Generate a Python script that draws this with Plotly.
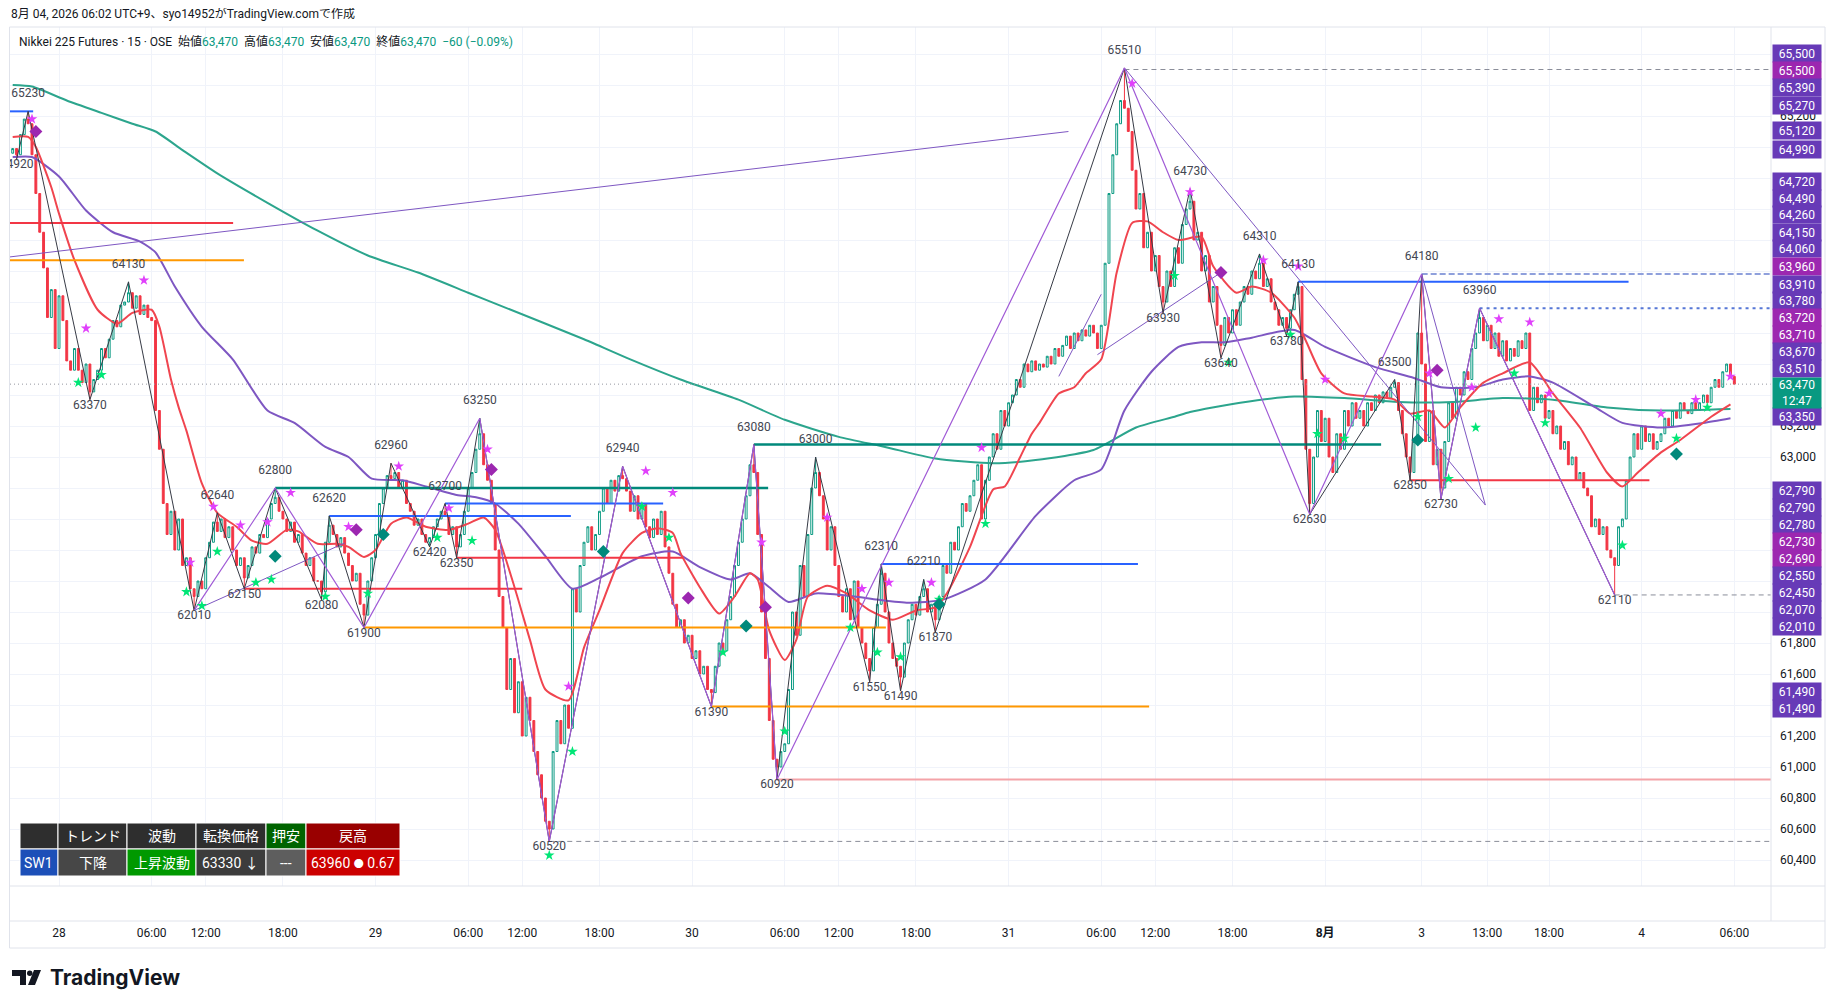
import plotly.graph_objects as go
import pandas as pd

# OSE Nikkei 225 futures, 15 minute bars (day 08:45-15:45, night 17:00-06:00)
sessions = [
    ("2026-07-27 21:00", "2026-07-28 06:00"),
    ("2026-07-28 08:45", "2026-07-28 15:45"),
    ("2026-07-28 17:00", "2026-07-29 06:00"),
    ("2026-07-29 08:45", "2026-07-29 15:45"),
    ("2026-07-29 17:00", "2026-07-30 06:00"),
    ("2026-07-30 08:45", "2026-07-30 15:45"),
    ("2026-07-30 17:00", "2026-07-31 06:00"),
    ("2026-07-31 08:45", "2026-07-31 15:45"),
    ("2026-07-31 17:00", "2026-08-01 06:00"),
    ("2026-08-03 08:45", "2026-08-03 15:45"),
    ("2026-08-03 17:00", "2026-08-04 06:00"),
]

first_open = 64960
closes = [
    # 27 night
    64990, 64950, 65080, 65180, 65150, 64950, 64700, 64450, 64220, 63900,
    64080, 63700, 64040, 63880, 63620, 63560, 63700, 63560, 63480, 63600,
    63420, 63500, 63560, 63700, 63640, 63760, 63880, 63840, 63980, 64000,
    64060, 63960, 64040, 63920, 63980, 63900, 63880,
    # 28 day
    63300, 63050, 62700, 62500, 62650, 62400, 62600, 62300, 62350, 62150,
    62100, 62200, 62150, 62350, 62450, 62580, 62520, 62600, 62480, 62550,
    62400, 62300, 62350, 62220, 62300, 62420, 62380, 62500, 62480,
    # 28 night
    62600, 62700, 62740, 62650, 62600, 62520, 62580, 62450, 62500, 62380,
    62300, 62350, 62200, 62200, 62130, 62450, 62560, 62500, 62420, 62480,
    62380, 62300, 62200, 62250, 62050, 61980, 62200, 62350, 62500, 62700,
    62800, 62880, 62860, 62900, 62800, 62850, 62700, 62650, 62560, 62600,
    62500, 62450, 62480, 62550, 62600, 62650, 62620, 62500, 62550, 62420,
    62500, 62650, 62800,
    # 29 day
    62900, 63050, 63150, 62950, 62850, 62700, 62400, 62100, 61900, 61500,
    61700, 61350, 61550, 61200, 61450, 61300, 61100, 60950, 60800, 60650,
    60600, 61100, 61300, 61150, 61400, 61250, 62150, 62000, 62300,
    # 29 night
    62450, 62550, 62400, 62500, 62650, 62800, 62700, 62850, 62780, 62880,
    62860, 62780, 62650, 62750, 62600, 62700, 62550, 62480, 62600, 62500,
    62650, 62420, 62250, 62050, 61900, 61950, 61800, 61850, 61700, 61750,
    61600, 61650, 61500, 61480, 61650, 61800, 61750, 61950, 62100, 62300,
    62450, 62600, 62750, 62950, 62900, 62500, 62000, 61700, 61300, 61050,
    61000, 61100, 61150,
    # 30 day
    61500, 62000, 61850, 62300, 62100, 62500, 62800, 62900, 62750, 62600,
    62400, 62550, 62300, 62100, 62000, 62150, 61950, 62200, 61900, 61800,
    61700, 61620, 61900, 62050, 62250, 62000, 61800, 61700, 61650,
    # 30 night
    61580, 61800, 61950, 62050, 61980, 62100, 62150, 62000, 62050, 61950,
    62100, 62300, 62250, 62450, 62400, 62550, 62700, 62650, 62750, 62850,
    62950, 62600, 62850, 63000, 63150, 63050, 63300, 63200, 63350, 63400,
    63500, 63450, 63600, 63550, 63620, 63560, 63600, 63580, 63650, 63600,
    63700, 63650, 63720, 63780, 63700, 63800, 63750, 63820, 63780, 63850,
    63800, 63700, 63850,
    # 31 day
    64250, 64700, 64950, 65150, 65300, 65250, 65100, 64850, 64600, 64700,
    64350, 64450, 64200, 64300, 64100, 64000, 64200, 64100, 64350, 64250,
    64500, 64600, 64650, 64400, 64450, 64200, 64300, 64000, 64100,
    # 31 night
    63850, 63720, 63900, 63800, 63950, 63850, 64000, 64100, 64050, 64200,
    64150, 64250, 64100, 64150, 64000, 63950, 63850, 63900, 63830, 63950,
    64050, 64100, 63500, 63050, 62700, 63000, 63300, 63100, 63250, 63000,
    62900, 63150, 63050, 63300, 63200, 63350, 63250, 63300, 63200, 63350,
    63300, 63400, 63350, 63420, 63380, 63450, 63480, 63300, 63150, 63000,
    62900, 63100, 63800,
    # 3 day
    63600, 63100, 63300, 62950, 63050, 62800, 63100, 63350, 63250, 63450,
    63400, 63550, 63500, 63700, 63800, 63900, 63750, 63850, 63700, 63800,
    63650, 63750, 63620, 63700, 63650, 63750, 63700, 63800, 63300,
    # 3 night
    63450, 63350, 63400, 63250, 63300, 63150, 63200, 63050, 63100, 62950,
    63000, 62850, 62900, 62800, 62750, 62550, 62600, 62500, 62550, 62400,
    62350, 62300, 62550, 62600, 62850, 63000, 63150, 63050, 63200, 63100,
    63150, 63050, 63100, 63150, 63250, 63200, 63300, 63250, 63350, 63300,
    63280, 63350, 63300, 63350, 63400, 63350, 63450, 63500, 63450, 63550,
    63600, 63520, 63470,
]

# swing points with their labels (bar, price, H/L)
piv_i = [1, 4, 20, 30, 47, 53, 60, 68, 80, 82, 91, 98, 108, 112, 115, 121, 139,
         158, 181, 192, 198, 208, 222, 225, 230, 236, 239, 288, 298, 305, 313,
         323, 330, 333, 336, 358, 362, 365, 370, 380, 415]
piv_p = [64920, 65230, 63370, 64130, 62010, 62640, 62150, 62800, 62080, 62620,
         61900, 62960, 62420, 62700, 62350, 63250, 60520, 62940, 61390, 63080,
         60920, 63000, 61550, 62310, 61490, 62210, 61870, 65510, 63930, 64730,
         63640, 64310, 63780, 64130, 62630, 63500, 62850, 64180, 62730, 63960,
         62110]
piv_k = ["L", "H", "L", "H", "L", "H", "L", "H", "L", "H", "L", "H", "L", "H",
         "L", "H", "L", "H", "L", "H", "L", "H", "L", "H", "L", "H", "L", "H",
         "L", "H", "L", "H", "L", "H", "L", "H", "L", "H", "L", "H", "L"]
major_i = [47, 68, 91, 121, 139, 158, 181, 192, 198, 288, 336, 365, 370, 380, 415]

# moving averages (bar, price)
ema_fast = [(0, 65065), (4, 65065), (6, 65000), (10, 64740), (12, 64570), (16, 64270),
            (22, 63950), (27, 63860), (31, 63930), (36, 63950), (38, 63840), (41, 63500),
            (43, 63320), (45, 63170), (49, 62830), (53, 62640), (58, 62550), (62, 62460),
            (66, 62440), (71, 62530), (74, 62520), (79, 62440), (84, 62440), (87, 62420),
            (91, 62355), (94, 62400), (98, 62570), (102, 62610), (107, 62550), (113, 62530),
            (118, 62570), (122, 62610), (125, 62530), (130, 62160), (134, 61820), (138, 61500),
            (144, 61430), (148, 61770), (152, 62010), (158, 62380), (163, 62510), (167, 62540),
            (171, 62510), (173, 62380), (178, 62160), (183, 61990), (187, 62100), (191, 62250),
            (193, 62210), (196, 61880), (200, 61690), (203, 61820), (206, 62100), (211, 62170),
            (216, 62120), (222, 62010), (228, 61950), (234, 62010), (239, 62030), (242, 62120),
            (248, 62420), (254, 62790), (257, 62810), (261, 63000), (264, 63150), (266, 63220),
            (271, 63410), (275, 63450), (278, 63540), (282, 63630), (286, 64190), (290, 64510),
            (294, 64520), (298, 64450), (302, 64400), (308, 64420), (311, 64230), (317, 64060),
            (321, 64100), (326, 64060), (332, 63900), (335, 63750), (339, 63540), (345, 63410),
            (352, 63390), (358, 63370), (362, 63280), (367, 63300), (371, 63190), (375, 63320),
            (381, 63480), (386, 63540), (393, 63610), (399, 63410), (406, 63190), (413, 62900),
            (417, 62810), (421, 62900), (427, 63030), (432, 63110), (440, 63260), (445, 63340)]
ema_mid = [(0, 64935), (5, 64935), (12, 64810), (19, 64590), (26, 64450), (33, 64390),
           (37, 64320), (42, 64100), (49, 63840), (57, 63630), (66, 63300), (73, 63220),
           (81, 63065), (87, 63000), (93, 62860), (101, 62850), (107, 62810), (115, 62755),
           (120, 62740), (125, 62700), (131, 62570), (138, 62360), (145, 62150), (152, 62220),
           (163, 62360), (171, 62390), (178, 62290), (186, 62210), (191, 62250), (196, 62160),
           (201, 62065), (208, 62120), (218, 62100), (224, 62080), (232, 62060), (241, 62080),
           (252, 62210), (265, 62620), (275, 62850), (282, 62920), (288, 63300), (295, 63550),
           (302, 63710), (308, 63740), (314, 63740), (321, 63770), (332, 63820), (340, 63710),
           (353, 63580), (363, 63510), (370, 63450), (379, 63450), (386, 63500), (393, 63520),
           (399, 63480), (410, 63320), (417, 63220), (427, 63190), (438, 63220), (445, 63250)]
ema_slow = [(0, 65400), (5, 65390), (14, 65300), (23, 65220), (31, 65150), (37, 65100),
            (44, 64980), (53, 64830), (66, 64640), (79, 64460), (92, 64300), (105, 64190),
            (118, 64060), (126, 63980), (148, 63760), (160, 63630), (173, 63500), (188, 63370),
            (200, 63240), (214, 63130), (226, 63065), (239, 62990), (254, 62960), (265, 62980),
            (280, 63045), (291, 63190), (301, 63260), (305, 63290), (318, 63350), (332, 63390),
            (345, 63380), (359, 63355), (373, 63355), (386, 63380), (399, 63370), (413, 63320),
            (427, 63300), (445, 63310)]

# horizontal levels (kind, price, from bar, to bar)
levels = [
    ("hi", 65230, -1, 5.3), ("lo", 64510, -1, 57.1), ("brk", 64270, -1, 59.9),
    ("key", 62800, 68, 195.7), ("hi", 62620, 82, 144.6), ("hi", 62700, 112, 168.5),
    ("lo", 62150, 60, 132), ("lo", 62350, 115, 173.6), ("brk", 61900, 91, 226.2),
    ("key", 63080, 192, 354.5), ("hi", 62310, 225, 291.5), ("brk", 61390, 181, 294.4),
    ("origin", 60920, 198, 460), ("hi", 64130, 333, 418.6), ("lo", 62850, 362, 424),
]
extreme_lines = [(60520, 139), (65500, 288), (62110, 415)]
target_dash = (64180, 365)
target_dot = (63960, 380)

# trend lines (bar0, price0, bar1, price1)
trend_lines = [(-1, 64290, 273.5, 65100), (47, 62010, 86, 62445), (281, 63660, 313, 64190),
               (271, 63520, 282, 64050), (288, 65510, 381.5, 62690), (365, 64180, 381.5, 62690)]

# signal markers (bar, price)
star_top = [(5, 65180), (19, 63830), (34, 64140), (46, 62320), (52, 62680), (59, 62560),
            (66, 62580), (72, 62770), (87, 62550), (100, 62940), (113, 62670), (123, 63050),
            (144, 61520), (164, 62910), (171, 62770), (194, 62450), (211, 62610), (220, 62150),
            (227, 62190), (238, 62190), (251, 63060), (290, 65410), (305, 64710), (324, 64270),
            (333, 64230), (340, 63500), (367, 63540), (378, 63450), (385, 63890), (393, 63870),
            (398, 63410), (427, 63280), (436, 63370), (445, 63520)]
star_bottom = [(17, 63480), (23, 63530), (45, 62130), (49, 62040), (53, 62390), (63, 62190),
               (67, 62210), (81, 62100), (92, 62120), (110, 62480), (119, 62460), (139, 60430),
               (145, 61100), (163, 62680), (170, 62480), (184, 61740), (200, 61230), (217, 61900),
               (224, 61740), (230, 61710), (240, 62080), (252, 62570), (301, 64170), (315, 63610),
               (331, 63790), (338, 63150), (345, 63120), (364, 63260), (372, 62860), (379, 63190),
               (389, 63540), (397, 63220), (417, 62430), (431, 63120), (439, 63320)]
dia_sell = [(6, 65100), (89, 62530), (124, 62920), (175, 62090), (195, 62030), (313, 64190),
            (369, 63560)]
dia_buy = [(68, 62360), (96, 62500), (153, 62390), (190, 61910), (240, 62050), (364, 63110),
           (431, 63020)]

# right scale price tags, top to bottom
tag_text = ["65,500", "65,500", "65,390", "65,270", "65,120", "64,990", "64,720", "64,490",
            "64,260", "64,150", "64,060", "63,960", "63,910", "63,780", "63,720", "63,710",
            "63,670", "63,510", "63,350", "62,790", "62,790", "62,780", "62,730", "62,690",
            "62,550", "62,450", "62,070", "62,010", "61,490", "61,490"]
tag_kind = ["p", "m", "p", "p", "p", "p", "p", "p", "p", "p", "p", "m", "p", "p", "m", "m",
            "p", "p", "p", "p", "p", "p", "m", "m", "p", "p", "p", "p", "p", "p"]
countdown = "12:47"

tick_times = ["2026-07-28 00:00", "2026-07-28 06:00", "2026-07-28 12:00", "2026-07-28 18:00",
              "2026-07-29 00:00", "2026-07-29 06:00", "2026-07-29 12:00", "2026-07-29 18:00",
              "2026-07-30 00:00", "2026-07-30 06:00", "2026-07-30 12:00", "2026-07-30 18:00",
              "2026-07-31 00:00", "2026-07-31 06:00", "2026-07-31 12:00", "2026-07-31 18:00",
              "2026-08-01 00:00", "2026-08-03 08:45", "2026-08-03 13:00", "2026-08-03 18:00",
              "2026-08-04 00:00", "2026-08-04 06:00"]
tick_text = ["28", "06:00", "12:00", "18:00", "29", "06:00", "12:00", "18:00", "30", "06:00",
             "12:00", "18:00", "31", "06:00", "12:00", "18:00", "<b>8月</b>", "3", "13:00",
             "18:00", "4", "06:00"]

table_head = ["", "トレンド", "波動", "転換価格", "押安", "戻高"]
table_row = ["SW1", "下降", "上昇波動", "63330 ↓", "---",
             "63960 <span style='font-size:10px'>●</span> 0.67"]

# ---------------------------------------------------------------- build
times = pd.DatetimeIndex([])
for a, b in sessions:
    times = times.append(pd.date_range(a, b, freq="15min"))
bars = list(range(len(times)))
opens = [first_open] + closes[:-1]
highs = [max(o, c) for o, c in zip(opens, closes)]
lows = [min(o, c) for o, c in zip(opens, closes)]
for i, p, k in zip(piv_i, piv_p, piv_k):
    if k == "H":
        highs[i] = max(highs[i], p)
    else:
        lows[i] = min(lows[i], p)
tick_idx = [times.get_loc(pd.Timestamp(t)) for t in tick_times]
last = closes[-1]

# page body adds an 8px offset; coordinates below are screenshot pixels
OFF = 8
W, H = 1835, 1008
PL, PR, PT, PB = 10, 1771, 27, 886   # price pane
TIME_LINE = 921                       # top of the time scale
XR = [-0.7, 455.5]
ppu = 0.155                           # pixels per price unit
YR = [63000 - (PB - 457) / ppu, 63000 + (457 - PT) / ppu]
FONT = "Roboto, Noto Sans CJK JP, sans-serif"
UP, DOWN = "#089981", "#f23645"
EDGE = "#e0e3eb"


def fx(px):
    return (px - PL) / (PR - PL)


def fy(py):
    return (PB - py) / (PB - PT)


def price_y(p):
    return PB - (p - YR[0]) * ppu


fig = go.Figure()

fig.add_trace(go.Candlestick(
    x=bars, open=opens, high=highs, low=lows, close=closes,
    increasing=dict(line=dict(color=UP, width=1), fillcolor="#ffffff"),
    decreasing=dict(line=dict(color=DOWN, width=1), fillcolor=DOWN),
    whiskerwidth=0, hoverinfo="skip"))

for pts, col in [(ema_slow, "#2ca58d"), (ema_mid, "#7e57c2"), (ema_fast, "#f0454f")]:
    fig.add_trace(go.Scatter(x=[p[0] for p in pts], y=[p[1] for p in pts], mode="lines",
                             line=dict(color=col, width=2, shape="spline", smoothing=0.6),
                             hoverinfo="skip"))

level_style = {"hi": ("#2962ff", 2), "lo": ("#f23645", 2), "brk": ("#ff9800", 2),
               "key": ("#00897b", 2.5), "origin": ("#f4a3a8", 2)}
for kind, p, a, b in levels:
    col, w = level_style[kind]
    fig.add_trace(go.Scatter(x=[a, b], y=[p, p], mode="lines", line=dict(color=col, width=w),
                             hoverinfo="skip"))
for p, a in extreme_lines:
    fig.add_trace(go.Scatter(x=[a, XR[1]], y=[p, p], mode="lines",
                             line=dict(color="#8a8d99", width=1, dash="5px,4px"), hoverinfo="skip"))
fig.add_trace(go.Scatter(x=[target_dash[1], XR[1]], y=[target_dash[0]] * 2, mode="lines",
                         line=dict(color="#8fa0dc", width=2, dash="6px,3px"), hoverinfo="skip"))
fig.add_trace(go.Scatter(x=[target_dot[1], XR[1]], y=[target_dot[0]] * 2, mode="lines",
                         line=dict(color="#5677d6", width=2, dash="3px,4px"), hoverinfo="skip"))
fig.add_trace(go.Scatter(x=[XR[0], XR[1]], y=[last, last], mode="lines",
                         line=dict(color="#9598a1", width=1, dash="1px,3px"), hoverinfo="skip"))

for a, p0, b, p1 in trend_lines:
    fig.add_trace(go.Scatter(x=[a, b], y=[p0, p1], mode="lines",
                             line=dict(color="#7e57c2", width=1), hoverinfo="skip"))

fig.add_trace(go.Scatter(x=piv_i, y=piv_p, mode="lines", line=dict(color="#363a45", width=1),
                         hoverinfo="skip"))
maj_p = [piv_p[piv_i.index(i)] for i in major_i]
fig.add_trace(go.Scatter(x=major_i, y=maj_p, mode="lines", line=dict(color="#a05ad6", width=1.2),
                         hoverinfo="skip"))

for pts, sym, col, size in [(star_top, "star", "#e040fb", 8), (star_bottom, "star", "#00e676", 8),
                            (dia_sell, "diamond", "#9c27b0", 10), (dia_buy, "diamond", "#00897b", 10)]:
    fig.add_trace(go.Scatter(x=[p[0] for p in pts], y=[p[1] for p in pts], mode="markers",
                             marker=dict(symbol=sym, color=col, size=size, line=dict(width=0)),
                             hoverinfo="skip"))

# swing labels
lab_y = [p + (17 if k == "H" else -6) / ppu for p, k in zip(piv_p, piv_k)]
fig.add_trace(go.Scatter(x=piv_i, y=lab_y, mode="text", text=[str(p) for p in piv_p],
                         textposition="middle center",
                         textfont=dict(family=FONT, size=12, color="#434651"),
                         cliponaxis=True, hoverinfo="skip"))

shapes = []
annos = []

# outer frame, pane bottom and time scale separators
shapes.append(dict(type="rect", xref="paper", yref="paper", x0=fx(9.5), x1=fx(1825),
                   y0=fy(948), y1=fy(27), line=dict(color=EDGE, width=1)))
for yy in (PB, TIME_LINE):
    shapes.append(dict(type="line", xref="paper", yref="paper", x0=fx(9.5), x1=fx(1825),
                       y0=fy(yy), y1=fy(yy), line=dict(color=EDGE, width=1)))
shapes.append(dict(type="line", xref="paper", yref="paper", x0=1, x1=1,
                   y0=fy(TIME_LINE), y1=fy(27), line=dict(color=EDGE, width=1)))

# price tags on the right scale
pal = {"p": "#673ab7", "m": "#9c27b0"}
tag_y = [54, 70.7, 87.7, 106, 130.7, 149, 181.7, 198, 215, 232, 249, 266.7, 284, 300.7, 317,
         334, 351.7, 368.7, 416.7, 490.7, 507.7, 524.7, 541.7, 558.7, 575.7, 592.7, 609.7,
         626.7, 691.7, 708.7]
boxes = [(y - 8.5, y + 8.5) for y in tag_y] + [(378, 407)]
for t, k, y in zip(tag_text, tag_kind, tag_y):
    annos.append(dict(xref="paper", yref="paper", x=fx(1796.5), y=fy(y), text=t,
                      showarrow=False, bgcolor=pal[k], width=46, height=15, borderpad=1,
                      font=dict(family=FONT, size=12, color="#ffffff"), xanchor="center",
                      yanchor="middle"))
annos.append(dict(xref="paper", yref="paper", x=fx(1796.5), y=fy(392.5),
                  text=f"{last:,}<br>{countdown}", showarrow=False, bgcolor=UP, width=46,
                  height=28, borderpad=1, font=dict(family=FONT, size=12, color="#ffffff"),
                  xanchor="center", yanchor="middle"))

# price scale labels that are not hidden behind a tag
ytick = list(range(60400, 65801, 200))
ytick = [v for v in ytick if not any(a <= price_y(v) <= b for a, b in boxes)]

# status table
cols = [20, 58, 127, 196, 266, 306, 400]
head_bg = ["#2e2e2e", "#2e2e2e", "#2e2e2e", "#2e2e2e", "#006400", "#990000"]
row_bg = ["#1c4fb8", "#474747", "#009900", "#3c3c3c", "#5e5e5e", "#cc0000"]
for r, (texts, bgs, y0, y1) in enumerate([(table_head, head_bg, 823, 849),
                                          (table_row, row_bg, 849, 876)]):
    for c in range(6):
        shapes.append(dict(type="rect", xref="paper", yref="paper", x0=fx(cols[c]),
                           x1=fx(cols[c + 1]), y0=fy(y1), y1=fy(y0), fillcolor=bgs[c],
                           line=dict(color="#ffffff", width=1), layer="above"))
        annos.append(dict(xref="paper", yref="paper", x=fx((cols[c] + cols[c + 1]) / 2),
                          y=fy((y0 + y1) / 2), text=texts[c], showarrow=False,
                          font=dict(family=FONT, size=14, color="#ffffff"),
                          xanchor="center", yanchor="middle"))

# titles
annos.append(dict(xref="paper", yref="paper", x=fx(9), y=fy(14), xanchor="left",
                  yanchor="middle", showarrow=False,
                  text="8月 04, 2026 06:02 UTC+9、syo14952がTradingView.comで作成",
                  font=dict(family=FONT, size=12, color="#131722")))
g = "<span style='color:#089981'>"
annos.append(dict(xref="paper", yref="paper", x=fx(17), y=fy(42), xanchor="left",
                  yanchor="middle", showarrow=False,
                  text=("Nikkei 225 Futures · 15 · OSE  始値" + g + "63,470</span>  高値" + g
                        + "63,470</span>  安値" + g + "63,470</span>  終値" + g
                        + "63,470  −60 (−0.09%)</span>"),
                  font=dict(family=FONT, size=12, color="#131722")))


# TradingView logo
def path(pts):
    return "M " + " L ".join(f"{fx(a)},{fy(b)}" for a, b in pts) + " Z"


shapes.append(dict(type="path", xref="paper", yref="paper",
                   path=path([(12, 970), (26, 970), (26, 985), (20, 985), (20, 976), (12, 976)]),
                   fillcolor="#131722", line=dict(width=0)))
shapes.append(dict(type="circle", xref="paper", yref="paper", x0=fx(27), x1=fx(32.5),
                   y0=fy(976), y1=fy(970.5), fillcolor="#131722", line=dict(width=0)))
shapes.append(dict(type="path", xref="paper", yref="paper",
                   path=path([(34, 970), (41, 970), (35, 985), (28, 985)]),
                   fillcolor="#131722", line=dict(width=0)))
annos.append(dict(xref="paper", yref="paper", x=fx(48), y=fy(978), xanchor="left",
                  yanchor="middle", showarrow=False, text="<b>TradingView</b>",
                  font=dict(family="Inter, Roboto, sans-serif", size=21, color="#131722")))

fig.update_layout(
    width=W - OFF, height=H - OFF, paper_bgcolor="#ffffff", plot_bgcolor="#ffffff",
    margin=dict(l=PL - OFF, r=W - PR, t=PT - OFF, b=H - PB), showlegend=False,
    shapes=shapes, annotations=annos, hovermode=False,
    font=dict(family=FONT, size=12, color="#131722"),
)
fig.update_xaxes(range=XR, rangeslider=dict(visible=False), tickmode="array", tickvals=tick_idx,
                 ticktext=tick_text, showgrid=True, gridcolor="#f0f3fa", gridwidth=1,
                 zeroline=False, showline=False, ticks="", ticklabelstandoff=38,
                 tickfont=dict(family=FONT, size=12, color="#131722"))
fig.update_yaxes(range=YR, side="right", tickmode="array", tickvals=ytick,
                 ticktext=[f"{v:,}" for v in ytick],
                 minor=dict(tickmode="linear", tick0=60000, dtick=200, showgrid=True,
                            gridcolor="#f0f3fa"),
                 showgrid=True, gridcolor="#f0f3fa", gridwidth=1, zeroline=False,
                 showline=False, ticks="", ticklabelstandoff=8,
                 tickfont=dict(family=FONT, size=12, color="#131722"))

fig.write_html("out.html")
